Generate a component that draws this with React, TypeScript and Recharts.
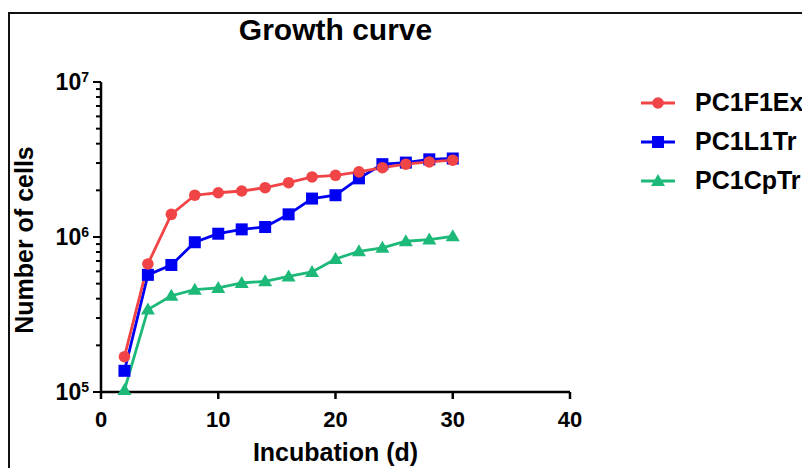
import { LineChart, Line, XAxis, YAxis, Legend, Label } from 'recharts';

const days = [2, 4, 6, 8, 10, 12, 14, 16, 18, 20, 22, 24, 26, 28, 30];
const pc1f1ex = [1.69e5, 6.7e5, 1.4e6, 1.86e6, 1.93e6, 1.98e6, 2.08e6, 2.24e6, 2.44e6, 2.5e6, 2.63e6, 2.8e6, 2.95e6, 3.05e6, 3.13e6];
const pc1l1tr = [1.37e5, 5.7e5, 6.6e5, 9.25e5, 1.05e6, 1.12e6, 1.16e6, 1.4e6, 1.77e6, 1.86e6, 2.39e6, 2.95e6, 3.02e6, 3.17e6, 3.21e6];
const pc1cptr = [1.03e5, 3.4e5, 4.18e5, 4.57e5, 4.69e5, 5.05e5, 5.18e5, 5.57e5, 5.95e5, 7.22e5, 8.09e5, 8.51e5, 9.39e5, 9.63e5, 1.01e6];

const xTicks = [0, 10, 20, 30, 40];
const yTicks = [
  1e5, 2e5, 3e5, 4e5, 5e5, 6e5, 7e5, 8e5, 9e5,
  1e6, 2e6, 3e6, 4e6, 5e6, 6e6, 7e6, 8e6, 9e6,
  1e7,
];

const series = [
  { key: 'f1ex', name: 'PC1F1Ex', color: '#F04446', shape: 'circle' },
  { key: 'l1tr', name: 'PC1L1Tr', color: '#0000F2', shape: 'square' },
  { key: 'cptr', name: 'PC1CpTr', color: '#1DB978', shape: 'triangle' },
];

const data = days.map((d, i) => ({
  day: d,
  f1ex: pc1f1ex[i],
  l1tr: pc1l1tr[i],
  cptr: pc1cptr[i],
}));

const FONT = '"Liberation Sans", Arial, sans-serif';

const Marker = ({ cx, cy, shape, color }: any) => {
  if (cx == null || cy == null) return null;
  if (shape === 'circle') return <circle cx={cx} cy={cy} r={5.8} fill={color} />;
  if (shape === 'square') return <rect x={cx - 6} y={cy - 6} width={12} height={12} fill={color} />;
  return <polygon points={`${cx},${cy - 7} ${cx + 7},${cy + 5} ${cx - 7},${cy + 5}`} fill={color} />;
};

const YTick = ({ x, y, payload }: any) => {
  const v = payload.value;
  const exp = Math.round(Math.log10(v));
  const major = Math.abs(Math.log10(v) - exp) < 1e-6;
  return (
    <g>
      <line x1={x - (major ? 8 : 5)} y1={y} x2={x} y2={y} stroke="#000" strokeWidth={2} />
      {major && (
        <text x={x - 12} y={y + 8} textAnchor="end" fontFamily={FONT} fontWeight="bold" fontSize={23} fill="#000">
          10
          <tspan dy={-8} fontSize={14}>{exp}</tspan>
        </text>
      )}
    </g>
  );
};

const XTick = ({ x, y, payload }: any) => (
  <g>
    <line x1={x} y1={y} x2={x} y2={y + 7} stroke="#000" strokeWidth={2.5} />
    <text x={x} y={y + 35} textAnchor="middle" fontFamily={FONT} fontWeight="bold" fontSize={22} fill="#000">
      {payload.value}
    </text>
  </g>
);

const renderLegend = () => (
  <div style={{ fontFamily: FONT, fontWeight: 'bold', fontSize: 25, color: '#000' }}>
    {series.map((s) => (
      <div key={s.key} style={{ display: 'flex', alignItems: 'center', height: 39 }}>
        <svg width={34} height={20} style={{ marginRight: 20 }}>
          <line x1={0} y1={10} x2={34} y2={10} stroke={s.color} strokeWidth={3} />
          <Marker cx={17} cy={10} shape={s.shape} color={s.color} />
        </svg>
        <span>{s.name}</span>
      </div>
    ))}
  </div>
);

export default function App() {
  return (
    <div style={{ position: 'relative', width: 802, height: 460, overflow: 'hidden', background: '#fff' }}>
      <svg width={802} height={460} style={{ position: 'absolute', left: 0, top: 0 }}>
        <path d="M1 470 L1 5 L810 5" fill="none" stroke="#111" strokeWidth={2} />
        <text x={327.5} y={32} textAnchor="middle" fontFamily={FONT} fontWeight="bold" fontSize={30} fill="#000">
          Growth curve
        </text>
      </svg>
      <div style={{ position: 'absolute', left: 0, top: 0 }}>
        <LineChart width={802} height={460} data={data} margin={{ top: 74, right: 240, left: 33, bottom: 36 }}>
          <XAxis
            type="number"
            dataKey="day"
            domain={[0, 40]}
            ticks={xTicks}
            interval={0}
            height={40}
            tickSize={0}
            tickMargin={0}
            tickLine={false}
            axisLine={{ stroke: '#000', strokeWidth: 2.5 }}
            tick={<XTick />}
          >
            <Label
              content={() => (
                <text x={327.5} y={453} textAnchor="middle" fontFamily={FONT} fontWeight="bold" fontSize={25} fill="#000">
                  Incubation (d)
                </text>
              )}
            />
          </XAxis>
          <YAxis
            type="number"
            scale="log"
            domain={[1e5, 1e7]}
            ticks={yTicks}
            interval={0}
            width={60}
            tickSize={0}
            tickMargin={0}
            tickLine={false}
            axisLine={{ stroke: '#000', strokeWidth: 2.5 }}
            tick={<YTick />}
          >
            <Label
              content={() => (
                <text
                  x={25}
                  y={232}
                  textAnchor="middle"
                  transform="rotate(-90, 25, 232)"
                  fontFamily={FONT}
                  fontWeight="bold"
                  fontSize={25}
                  fill="#000"
                >
                  Number of cells
                </text>
              )}
            />
          </YAxis>
          <Legend
            content={renderLegend}
            layout="horizontal"
            verticalAlign="middle"
            align="center"
            wrapperStyle={{ left: 633, top: 75, width: 170 }}
          />
          {[...series].reverse().map((s) => (
            <Line
              key={s.key}
              type="linear"
              dataKey={s.key}
              name={s.name}
              stroke={s.color}
              strokeWidth={2.8}
              isAnimationActive={false}
              dot={(p: any) => <Marker key={`${s.key}-${p.index}`} cx={p.cx} cy={p.cy} shape={s.shape} color={s.color} />}
              activeDot={false}
            />
          ))}
        </LineChart>
      </div>
    </div>
  );
}
